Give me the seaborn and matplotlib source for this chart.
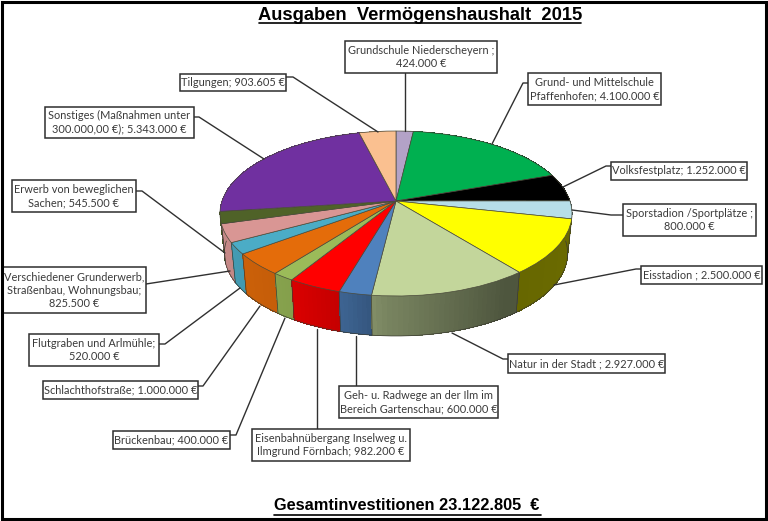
"""
Ausgaben Vermoegenshaushalt 2015 - perspective pie with a shaded side wall.
"""
import matplotlib
matplotlib.use("Agg")
import matplotlib.pyplot as plt
from matplotlib.patches import Rectangle
from matplotlib.transforms import Transform
import numpy as np
import seaborn as sns

sns.set_theme(style="white")
plt.rcParams["font.family"] = ["Lato", "DejaVu Sans"]

# clockwise from twelve o'clock
labels = [
    "Grundschule Niederscheyern ;\n424.000 €",
    "Grund- und Mittelschule\nPfaffenhofen; 4.100.000 €",
    "Volksfestplatz; 1.252.000 €",
    "Sporstadion /Sportplätze ;\n800.000 €",
    "Eisstadion ; 2.500.000 €",
    "Natur in der Stadt ; 2.927.000 €",
    "Geh- u. Radwege an der Ilm im\nBereich Gartenschau; 600.000 €",
    "Eisenbahnübergang Inselweg u.\nIlmgrund Förnbach; 982.200 €",
    "Brückenbau; 400.000 €",
    "Schlachthofstraße; 1.000.000 €",
    "Flutgraben und Arlmühle;\n520.000 €",
    "Verschiedener Grunderwerb,\nStraßenbau, Wohnungsbau;\n825.500 €",
    "Erwerb von beweglichen\nSachen; 545.500 €",
    "Sonstiges (Maßnahmen unter\n300.000,00 €); 5.343.000 €",
    "Tilgungen; 903.605 €",
]
values = [424000, 4100000, 1252000, 800000, 2500000, 2927000, 600000, 982200,
          400000, 1000000, 520000, 825500, 545500, 5343000, 903605]
colors = ["#b3a2c7", "#00b050", "#000000", "#b7dee8", "#ffff00", "#c3d69b", "#4f81bd", "#ff0000",
          "#9bbb59", "#e46c0a", "#4bacc6", "#d99694", "#4f6228", "#7030a0", "#fac090"]

# label boxes: x0, y0, x1, y1 in image pixels
boxes = [
    (345, 41, 497, 73), (528, 73, 661, 105), (611, 162, 747, 180), (623, 204, 756, 236),
    (641, 266, 762, 284), (508, 354, 665, 373), (339, 386, 498, 418), (252, 429, 410, 461),
    (113, 431, 230, 449), (43, 381, 198, 399), (29, 334, 159, 366), (2, 267, 146, 313),
    (12, 180, 136, 212), (45, 107, 194, 138), (180, 74, 286, 91),
]
# leader polylines in image pixels
leaders = [
    [(405, 73), (405, 131)], [(528, 83), (523, 83), (492, 144)],
    [(611, 166), (606, 166), (563, 187)], [(623, 215), (611, 215), (572, 210)],
    [(641, 269), (636, 269), (554, 285)], [(508, 359), (503, 359), (452, 333)],
    [(356, 386), (356, 336)], [(317, 429), (317, 329)],
    [(230, 435), (236, 435), (285, 318)], [(198, 386), (203, 386), (260, 306)],
    [(159, 344), (165, 344), (240, 288)], [(146, 284), (230, 271)],
    [(136, 191), (142, 191), (225, 253)], [(194, 117), (199, 117), (264, 159)],
    [(286, 77), (293, 77), (378, 132)],
]

CX, APEX_Y = 396, 201
RX, RY, PERSP = 174, 80.6, 0.1515
WALL_H, WALL_X = 40, 0.975


class Perspective(Transform):
    """Unit disc seen from the front and above, mapped to image pixels."""
    input_dims = output_dims = 2

    def transform_non_affine(self, values):
        xy = np.asarray(values, dtype=float)
        d = 1 + PERSP * xy[:, 1]
        return np.column_stack([CX + RX * xy[:, 0] / d, APEX_Y - RY * xy[:, 1] / d])


persp = Perspective()


def rim(theta_deg, wall=False):
    t = np.radians(theta_deg)
    pts = persp.transform_non_affine(np.column_stack([np.cos(t), np.sin(t)]))
    if wall:
        pts[:, 0] = CX + (pts[:, 0] - CX) * WALL_X
        pts[:, 1] += WALL_H
    return pts


def shade(color, theta_deg):
    # wall gets darker towards the right hand side
    f = np.interp(np.cos(np.radians(theta_deg)), [-1, -0.5, -0.25, -0.05, 0.55, 1],
                  [0.92, 0.85, 0.76, 0.62, 0.40, 0.42])
    return tuple(c * f for c in matplotlib.colors.to_rgb(color))


fig = plt.figure(figsize=(7.68, 5.21), dpi=100)
ax = fig.add_axes([0, 0, 1, 1])

palette = sns.color_palette(colors)
wedges, _ = ax.pie(values, colors=palette, startangle=90, counterclock=False,
                   wedgeprops={"linewidth": 0.5, "edgecolor": "#4a4a3a", "zorder": 4})
for w in wedges:
    w.set_transform(persp + ax.transData)

ax.set_aspect("auto")
ax.set_xlim(0, 768)
ax.set_ylim(521, 0)
ax.axis("off")

# side wall, far strips first so the near ones cover them
strips = []
for w, col in zip(wedges, palette):
    edges = np.linspace(w.theta1, w.theta2, max(2, int((w.theta2 - w.theta1) / 1.5) + 2))
    for t0, t1 in zip(edges[:-1], edges[1:]):
        strips.append((np.sin(np.radians((t0 + t1) / 2)), t0, t1, col))
for _, t0, t1, col in sorted(strips, key=lambda s: -s[0]):
    ends = np.array([t0, t1])
    quad = np.vstack([rim(ends), rim(ends[::-1], wall=True)])
    c = shade(col, (t0 + t1) / 2)
    ax.fill(quad[:, 0], quad[:, 1], fc=c, ec="none", antialiased=False, zorder=2)

for w in wedges:
    t = np.array([w.theta1])
    if np.sin(np.radians(t[0])) < -0.02:
        seam = np.vstack([rim(t), rim(t, wall=True)])
        ax.plot(seam[:, 0], seam[:, 1], color="#3a3a30", lw=0.5, zorder=3)
t = np.linspace(180, 360, 200)
ax.plot(*rim(t, wall=True).T, color="#3a3a30", lw=0.5, zorder=3)

# leaders and label boxes
for pts in leaders:
    xs, ys = zip(*pts)
    ax.plot(xs, ys, color="#303030", lw=1.0, zorder=5)
for (x0, y0, x1, y1), text in zip(boxes, labels):
    ax.add_patch(Rectangle((x0, y0), x1 - x0, y1 - y0, fc="white", ec="#2e2e2e", lw=1.1, zorder=6))
    ax.text((x0 + x1) / 2, (y0 + y1) / 2, text, ha="center", va="center", ma="center",
            fontsize=7.9, color="#3a3a3a", linespacing=1.25, zorder=7)

# headings with underline
ax.text(420, 15, "Ausgaben  Vermögenshaushalt  2015", ha="center", va="center",
        family="Liberation Sans", fontweight="bold", fontsize=13.2, color="black")
ax.plot([259, 581], [23, 23], color="black", lw=1.2)
ax.text(407, 506, "Gesamtinvestitionen 23.122.805  €", ha="center", va="center",
        family="Liberation Sans", fontweight="bold", fontsize=11.8, color="black")
ax.plot([274, 541], [515, 515], color="black", lw=1.2)

# picture frame
ax.add_patch(Rectangle((1.5, 1.5), 764.5, 517, fc="none", ec="black", lw=2.2, zorder=8))

fig.savefig("out.png", dpi=100)
